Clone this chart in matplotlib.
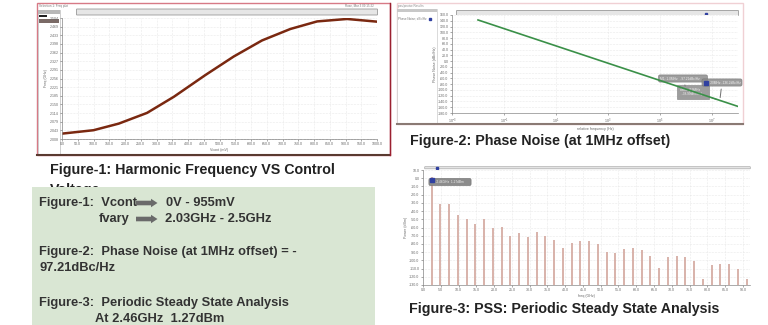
import numpy as np
import matplotlib
matplotlib.use('Agg')
import matplotlib.pyplot as plt
import matplotlib.patches as mpatches

# Figure-1: harmonic frequency vs control voltage
vcont_mv = [0, 100, 180, 270, 355, 455, 545, 635, 725, 810, 905, 1000]
freq_ghz = [2.030, 2.044, 2.071, 2.115, 2.181, 2.270, 2.346, 2.412, 2.459, 2.490, 2.500, 2.489]

# Figure-2: phase noise vs offset
offset_hz = [1e-2, 1e6, 1e8]
pnoise_dbc = [142.8, -97.21, -157.2]
m2_offset_hz = 2e7
m2_pnoise = -136.2

# Figure-3: PSS spectrum (harmonics of 2.46GHz)
f0_ghz = 2.46
pss_dbm = [1.27, -31.8, -31.8, -45.3, -49.4, -56.3, -49.4, -60.4, -59.2, -70.6,
           -66.5, -71.0, -65.3, -69.8, -74.7, -84.9, -78.8, -76.8, -76.0, -80.1,
           -90.3, -91.1, -86.2, -85.0, -87.0, -94.4, -109.5, -96.0, -94.4, -96.0,
           -101.3, -122.6, -105.8, -104.2, -104.2, -110.3, -122.6]

W, H = 768, 325
plt.rcParams['font.family'] = ['Liberation Sans', 'DejaVu Sans']


def rect(x0, y0, x1, y1):
    return [x0 / W, 1 - y1 / H, (x1 - x0) / W, (y1 - y0) / H]


fig = plt.figure(figsize=(W / 100, H / 100), dpi=100)

# pixel-space overlay for screenshot frames and text
bg = fig.add_axes([0, 0, 1, 1])
bg.set_xlim(0, W)
bg.set_ylim(H, 0)
bg.axis('off')

# screenshot frames
bg.add_patch(mpatches.Rectangle((37, 3), 353, 152, fc='white', ec='#d77a86', lw=1))
bg.plot([37, 390], [155, 155], color='#5a3a30', lw=1.5)
bg.plot([390, 390], [3, 155], color='#9a2030', lw=1)
bg.add_patch(mpatches.Rectangle((38, 10), 22, 145, fc='white', ec='#bbbbbb', lw=0.5))
bg.add_patch(mpatches.Rectangle((38, 10), 22, 3.5, fc='#b8b8b8', ec='none'))
bg.add_patch(mpatches.Rectangle((39, 15), 8, 1.5, fc='#222222', ec='none'))
bg.add_patch(mpatches.Rectangle((39, 19), 20, 4, fc='#7a6a66', ec='none'))
bg.text(39, 6, 'Selection 1: Freq plot', fontsize=2.2, color='#777777', va='center')
bg.text(345, 6, 'Rose, Mar 3 09:15:22', fontsize=2.2, color='#777777', va='center')
bg.add_patch(mpatches.FancyBboxPatch((77, 9.5), 300, 5, boxstyle='round,pad=0.5',
                                     fc='#e6e6e6', ec='#999999', lw=0.6))

bg.add_patch(mpatches.Rectangle((397, 3), 346, 121, fc='white', ec='#f0d0d4', lw=1))
bg.plot([397, 743], [124, 124], color='#8a7a74', lw=1.5)
bg.add_patch(mpatches.Rectangle((397, 9), 40, 115, fc='white', ec='#cccccc', lw=0.5))
bg.add_patch(mpatches.Rectangle((397, 9), 40, 3, fc='#c8c8c8', ec='none'))
bg.text(398, 19, 'Phase Noise; dBc/Hz', fontsize=2.2, color='#777777', va='center')
bg.plot([430], [19], marker='s', ms=2, color='#3040a0')
bg.text(398, 6, 'pss/pnoise Results', fontsize=2.2, color='#888888', va='center')
bg.add_patch(mpatches.FancyBboxPatch((457, 11), 281, 4, boxstyle='round,pad=0.5',
                                     fc='#e6e6e6', ec='#999999', lw=0.6))
bg.plot([706], [14], marker='s', ms=2, color='#3040a0')

bg.add_patch(mpatches.FancyBboxPatch((425, 167), 325, 1.5, boxstyle='round,pad=0.3',
                                     fc='#e6e6e6', ec='#aaaaaa', lw=0.5))
bg.plot([437], [168], marker='s', ms=2, color='#3040a0')

# titles
tt = dict(fontsize=10.3, fontweight='bold', color='#222222', va='center', ha='left')
bg.text(50, 170, 'Figure-1: Harmonic Frequency VS Control', **tt)
bg.text(50, 190, 'Voltage', zorder=2, **tt)
bg.text(410, 141, 'Figure-2: Phase Noise (at 1MHz offset)', **tt)
bg.text(409, 309, 'Figure-3: PSS: Periodic Steady State Analysis', **tt)

# green summary box
bg.add_patch(mpatches.Rectangle((32, 187), 343, 140, fc='#d9e6d3', ec='none', zorder=3))
tkw = dict(fontsize=9.3, fontweight='bold', color='#333333', va='center', ha='left', zorder=4)
bg.text(39, 203, 'Figure-1:  Vcont', **tkw)
bg.text(166, 203, '0V - 955mV', **tkw)
bg.text(99, 219, 'fvary', **tkw)
bg.text(165, 219, '2.03GHz - 2.5GHz', **tkw)
bg.text(39, 252, 'Figure-2:  Phase Noise (at 1MHz offset) = -', **tkw)
bg.text(39, 268, '97.21dBc/Hz', **tkw)
bg.text(39, 303, 'Figure-3:  Periodic Steady State Analysis', **tkw)
bg.text(95, 319, 'At 2.46GHz  1.27dBm', **tkw)
for ya in (203, 219):
    bg.add_patch(mpatches.FancyArrow(136, ya, 15, 0, width=4.6, head_width=8.5,
                                     head_length=6.5, fc='#6a6a6a', ec='none', zorder=4))

tick_kw = dict(labelsize=2.6, colors='#666666', length=1.5, width=0.4, pad=1)
grid_kw = dict(color='#d8d8d8', lw=0.4, ls=':')

# Figure-1 plot
ax1 = fig.add_axes(rect(62, 18, 377, 139))
ax1.plot(vcont_mv, freq_ghz, color='#7a2810', lw=1.8)
ax1.set_xlim(0, 1000)
ax1.set_ylim(2.008, 2.504)
ax1.set_xticks(np.arange(0, 1001, 50))
ax1.set_xticklabels([f'{v:.1f}' for v in np.arange(0, 1001, 50)])
ax1.set_xticks(np.arange(0, 1001, 10), minor=True)
yt1 = np.linspace(2.008, 2.504, 15)
ax1.set_yticks(yt1)
ax1.set_yticklabels([f'{v:.3f}' for v in yt1])
ax1.tick_params(**tick_kw)
ax1.tick_params(which='minor', length=1, width=0.3, colors='#666666')
ax1.grid(True, **grid_kw)
ax1.set_xlabel('Vcont (mV)', fontsize=2.6, color='#666666', labelpad=1)
ax1.set_ylabel('Freq (GHz)', fontsize=2.6, color='#666666', labelpad=1)
for s in ax1.spines.values():
    s.set_color('#888888')
    s.set_linewidth(0.5)
ax1.spines['top'].set_visible(False)
ax1.spines['right'].set_visible(False)

# Figure-2 plot
ax2 = fig.add_axes(rect(452, 15, 738, 113))
ax2.semilogx(offset_hz, pnoise_dbc, color='#3a9048', lw=1.2, zorder=5)
ax2.set_xlim(1e-3, 1e8)
ax2.set_ylim(-180, 160)
ax2.set_yticks(np.arange(-180, 161, 20))
ax2.set_yticklabels([f'{v:.1f}' for v in np.arange(-180, 161, 20)])
ax2.tick_params(**tick_kw)
ax2.tick_params(which='minor', length=1, width=0.3, colors='#666666')
ax2.grid(True, which='both', **grid_kw)
ax2.set_xlabel('relative frequency (Hz)', fontsize=2.6, color='#666666', labelpad=1)
ax2.set_ylabel('Phase Noise (dBc/Hz)', fontsize=2.6, color='#666666', labelpad=1)
for s in ax2.spines.values():
    s.set_color('#888888')
    s.set_linewidth(0.5)
ax2.spines['top'].set_visible(False)
ax2.spines['right'].set_visible(False)

# marker annotation boxes (text placed in figure pixels)
box_kw = dict(fc='#8c8c8c', ec='#6f6f6f', lw=0.4, alpha=0.85)
ann_kw = dict(textcoords=bg.transData, fontsize=2.3, color='#f0f0f0', va='center',
              ha='center', annotation_clip=False, zorder=4)
ax2.annotate('M1: 1.0MHz   -97.21dBc/Hz       ', xy=(offset_hz[1], pnoise_dbc[1]),
             xytext=(683, 78.5), bbox=dict(boxstyle='round,pad=0.5', **box_kw),
             arrowprops=dict(arrowstyle='-', color='#6f6f6f', lw=0.7), **ann_kw)
ax2.annotate('delta: (19MHz      \n   -38.99dBc/Hz)     ', xy=(m2_offset_hz, m2_pnoise),
             xytext=(693, 92), bbox=dict(boxstyle='square,pad=0.7', **box_kw),
             arrowprops=dict(arrowstyle='-', color='#6f6f6f', lw=0.7), **ann_kw)
ax2.annotate('M2: 20MHz -136.2dBc/Hz', xy=(m2_offset_hz, m2_pnoise),
             xytext=(722, 82.5), bbox=dict(boxstyle='round,pad=0.5', **box_kw),
             arrowprops=dict(arrowstyle='-', color='#6f6f6f', lw=0.7), **ann_kw)
ax2.plot([705.5], [82.5], marker='s', ms=2.2, color='#3040a0', transform=bg.transData,
         clip_on=False, zorder=6)

# Figure-3 plot
ax3 = fig.add_axes(rect(423, 170, 750, 285))
harm_ghz = f0_ghz * np.arange(1, len(pss_dbm) + 1)
ax3.vlines(harm_ghz, -130, pss_dbm, color='#d6aca4', lw=1.3, zorder=3)
ax3.set_xlim(0, 92)
ax3.set_ylim(-130, 10)
ax3.set_yticks(np.arange(-130, 11, 10))
ax3.set_yticklabels([f'{v:.1f}' for v in np.arange(-130, 11, 10)])
ax3.set_xticks(np.arange(0, 91, 5))
ax3.set_xticklabels([f'{v:.1f}' for v in np.arange(0, 91, 5)])
ax3.tick_params(**tick_kw)
ax3.grid(True, **grid_kw)
ax3.set_xlabel('freq (GHz)', fontsize=2.6, color='#666666', labelpad=1)
ax3.set_ylabel('Power (dBm)', fontsize=2.6, color='#666666', labelpad=1)
for s in ax3.spines.values():
    s.set_color('#888888')
    s.set_linewidth(0.5)
ax3.spines['top'].set_visible(False)
ax3.spines['right'].set_visible(False)
ax3.annotate('M1: 2.46GHz  1.27dBm      ', xy=(harm_ghz[0], pss_dbm[0] - 4),
             xytext=(450, 182), textcoords=bg.transData, fontsize=2.3, color='#f0f0f0',
             ha='center', va='center', zorder=4,
             bbox=dict(boxstyle='round,pad=0.5', fc='#8c8c8c', ec='#6f6f6f', lw=0.4))
ax3.plot([harm_ghz[0]], [pss_dbm[0] - 4], marker='s', ms=2.2, color='#3040a0', zorder=5)

fig.savefig('out.png', dpi=100)
